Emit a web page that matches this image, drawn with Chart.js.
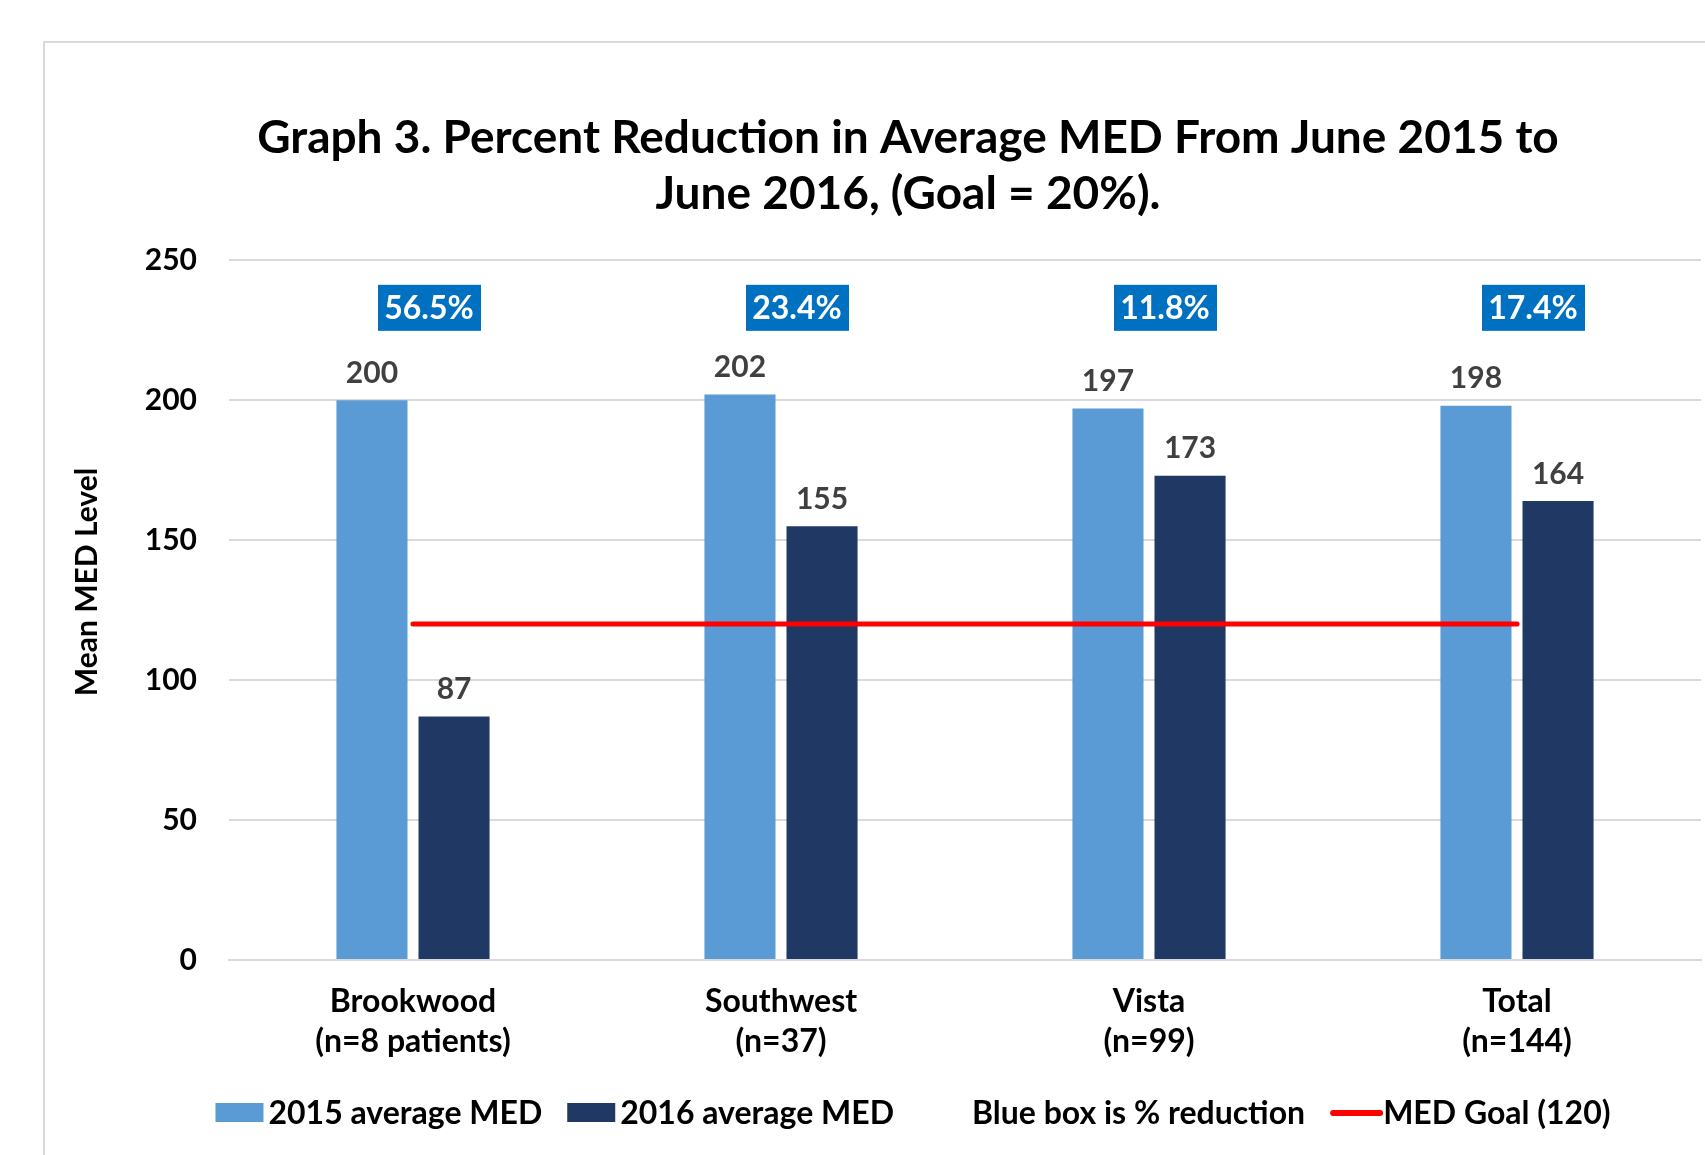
<!DOCTYPE html>
<html>
<head>
<meta charset="utf-8">
<script src="https://cdn.jsdelivr.net/npm/chart.js@4.4.1/dist/chart.umd.min.js"></script>
<style>
  html, body { margin: 0; padding: 0; background: #fff; overflow: hidden; }
  body { width: 1705px; height: 1155px; position: relative; }
  #frame {
    position: absolute; left: 43px; top: 41px;
    width: 1730px; height: 1160px;
    border: 2px solid #d9d9d9; box-sizing: border-box;
  }
  canvas { display: block; }
</style>
</head>
<body>
<div id="frame"><canvas id="chart" width="1726" height="1156"></canvas></div>
<script>
// data
const categories = [
  ['Brookwood', '(n=8 patients)'],
  ['Southwest', '(n=37)'],
  ['Vista', '(n=99)'],
  ['Total', '(n=144)']
];
const med2015 = [200, 202, 197, 198];
const med2016 = [87, 155, 173, 164];
const medGoal = [120, 120, 120, 120];
const reductionLabels = ['56.5%', '23.4%', '11.8%', '17.4%'];
const yTickValues = [0, 50, 100, 150, 200, 250];

const titleLines = [
  'Graph 3. Percent Reduction in Average MED From June 2015 to',
  'June 2016, (Goal = 20%).'
];
const yAxisTitle = 'Mean MED Level';
const noteLabel = 'Blue box is % reduction';

const colors = Object.freeze({
  MED_2015: '#5B9BD5',
  MED_2016: '#203864',
  GOAL: '#FF0000',
  BOX: '#0070C0',
  GRID: '#d9d9d9',
  VALUE: '#404040',
});

const FONT = "Lato, 'Open Sans', sans-serif";

// value labels above bars, blue reduction boxes, y title, legend
const annotations = {
  id: 'annotations',
  afterDatasetsDraw(chart) {
    const ctx = chart.ctx;
    const x = chart.scales.x;
    const y = chart.scales.y;

    ctx.save();
    ctx.font = `bold 30px ${FONT}`;
    ctx.textAlign = 'center';
    ctx.textBaseline = 'middle';
    ctx.fillStyle = colors.VALUE;
    chart.data.datasets.forEach((ds, i) => {
      if (ds.type === 'line') return;
      chart.getDatasetMeta(i).data.forEach((bar, j) => {
        ctx.fillText(String(ds.data[j]), bar.x, bar.y - 27);
      });
    });

    ctx.font = `bold 32px ${FONT}`;
    reductionLabels.forEach((label, j) => {
      const cx = x.getPixelForValue(j) + 16;
      const cy = y.getPixelForValue(233);
      ctx.fillStyle = colors.BOX;
      ctx.fillRect(cx - 51, cy - 23, 103, 46);
      ctx.fillStyle = '#ffffff';
      ctx.fillText(label, cx, cy + 1);
    });
    ctx.restore();
  },
  afterDraw(chart) {
    const ctx = chart.ctx;
    ctx.save();

    // y axis title
    ctx.font = `bold 30px ${FONT}`;
    ctx.fillStyle = '#000';
    ctx.textAlign = 'center';
    ctx.textBaseline = 'middle';
    ctx.translate(42, 539);
    ctx.rotate(-Math.PI / 2);
    ctx.fillText(yAxisTitle, 0, 0);
    ctx.setTransform(1, 0, 0, 1, 0, 0);

    // legend
    const ds = chart.data.datasets;
    const items = [
      {text: ds[0].label, kind: 'box', color: ds[0].backgroundColor},
      {text: ds[1].label, kind: 'box', color: ds[1].backgroundColor},
      {text: noteLabel, kind: 'none'},
      {text: ds[2].label, kind: 'line', color: ds[2].borderColor}
    ];
    const markerW = 48, textGap = 5, itemGap = 25;
    ctx.font = `bold 32px ${FONT}`;
    ctx.textAlign = 'left';
    const widths = items.map(it => markerW + textGap + ctx.measureText(it.text).width);
    const total = widths.reduce((a, b) => a + b, 0) + itemGap * (items.length - 1);
    let lx = chart.width / 2 + 5 - total / 2;
    const ly = 1070;
    items.forEach((it, i) => {
      if (it.kind === 'box') {
        ctx.fillStyle = it.color;
        ctx.fillRect(lx, ly - 10, markerW, 19);
      } else if (it.kind === 'line') {
        ctx.strokeStyle = it.color;
        ctx.lineWidth = 6;
        ctx.lineCap = 'round';
        ctx.beginPath();
        ctx.moveTo(lx + 3, ly);
        ctx.lineTo(lx + markerW + 2, ly);
        ctx.stroke();
      }
      ctx.fillStyle = '#000';
      ctx.fillText(it.text, lx + markerW + textGap, ly + 1);
      lx += widths[i] + itemGap;
    });
    ctx.restore();
  }
};

new Chart(document.getElementById('chart'), {
  type: 'bar',
  data: {
    labels: categories,
    datasets: [
      {
        label: '2015 average MED',
        data: med2015,
        backgroundColor: colors.MED_2015,
        barPercentage: 0.866,
        categoryPercentage: 0.446,
        order: 1
      },
      {
        label: '2016 average MED',
        data: med2016,
        backgroundColor: colors.MED_2016,
        barPercentage: 0.866,
        categoryPercentage: 0.446,
        order: 1
      },
      {
        type: 'line',
        label: 'MED Goal (120)',
        data: medGoal,
        borderColor: colors.GOAL,
        borderWidth: 5,
        borderCapStyle: 'round',
        pointRadius: 0,
        order: 0
      }
    ]
  },
  options: {
    responsive: false,
    animation: false,
    layout: { padding: { top: 0, right: 70, bottom: 119, left: 70 } },
    plugins: {
      legend: { display: false },
      tooltip: { enabled: false },
      title: {
        display: true,
        text: titleLines,
        color: '#000',
        font: { family: FONT, size: 46, weight: 'bold', lineHeight: 1.22 },
        padding: { top: 67, bottom: 38 }
      }
    },
    scales: {
      x: {
        grid: { display: false, drawTicks: false },
        border: { color: colors.GRID, width: 2 },
        ticks: {
          color: '#000',
          font: { family: FONT, size: 32, weight: 'bold', lineHeight: 1.25 },
          padding: 22,
          maxRotation: 0,
          autoSkip: false
        },
        afterFit: (scale) => { scale.height = 120; }
      },
      y: {
        min: yTickValues[0],
        max: yTickValues[yTickValues.length - 1],
        afterBuildTicks: (scale) => { scale.ticks = yTickValues.map(v => ({ value: v })); },
        grid: { color: colors.GRID, lineWidth: 2, drawTicks: false },
        border: { display: false },
        ticks: {
          color: '#000',
          font: { family: FONT, size: 30, weight: 'bold' },
          padding: 32
        },
        afterFit: (scale) => { scale.width = 114; }
      }
    }
  },
  plugins: [annotations]
});
</script>
</body>
</html>
